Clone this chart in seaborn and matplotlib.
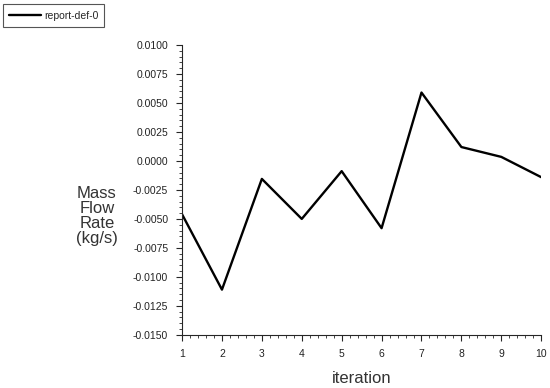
import pandas as pd
import seaborn as sns
import matplotlib.pyplot as plt
from matplotlib.ticker import MultipleLocator, FormatStrFormatter

iterations = [1, 2, 3, 4, 5, 6, 7, 8, 9, 10]
mass_flow = [-0.0046, -0.0111, -0.00155, -0.0050, -0.00088, -0.0058,
             0.0059, 0.0012, 0.00035, -0.0014]
series_name = "report-def-0"

df = pd.DataFrame({"iteration": iterations, "flow": mass_flow})

sns.set_style("ticks")
plt.rcParams['font.family'] = ['Liberation Sans', 'DejaVu Sans']

fig = plt.figure(figsize=(5.5, 3.88), dpi=100)
ax = fig.add_axes([0.331, 0.137, 0.653, 0.747])

sns.lineplot(data=df, x="iteration", y="flow", ax=ax, color="black",
             linewidth=1.7, label=series_name, legend=False)

ax.set_xlim(1, 10)
ax.set_ylim(-0.015, 0.010)
ax.xaxis.set_major_locator(MultipleLocator(1))
ax.xaxis.set_minor_locator(MultipleLocator(0.2))
ax.yaxis.set_major_locator(MultipleLocator(0.0025))
ax.yaxis.set_minor_locator(MultipleLocator(0.0005))
ax.yaxis.set_major_formatter(FormatStrFormatter('%.4f'))
ax.tick_params(which='major', length=4, width=0.8, labelsize=7.5, pad=6,
               labelcolor="#222222")
ax.tick_params(which='minor', length=2, width=0.6)
sns.despine(ax=ax)

ax.set_xlabel("iteration", fontsize=12, color="#333333", labelpad=9)
ax.set_ylabel("Mass\nFlow\nRate\n(kg/s)", fontsize=12, color="#333333",
              rotation=0, ha='center', va='center', linespacing=1.02)
ax.yaxis.set_label_coords(-0.237, 0.41)

leg = fig.legend(*ax.get_legend_handles_labels(), loc='upper left',
                 bbox_to_anchor=(0.002, 0.994), fontsize=7.5, handlelength=3.0,
                 handletextpad=0.3, fancybox=False, borderpad=0.6,
                 borderaxespad=0.2, framealpha=1)
leg.get_frame().set_edgecolor('#555555')
leg.get_frame().set_linewidth(0.8)

fig.savefig("out.png", dpi=100)
